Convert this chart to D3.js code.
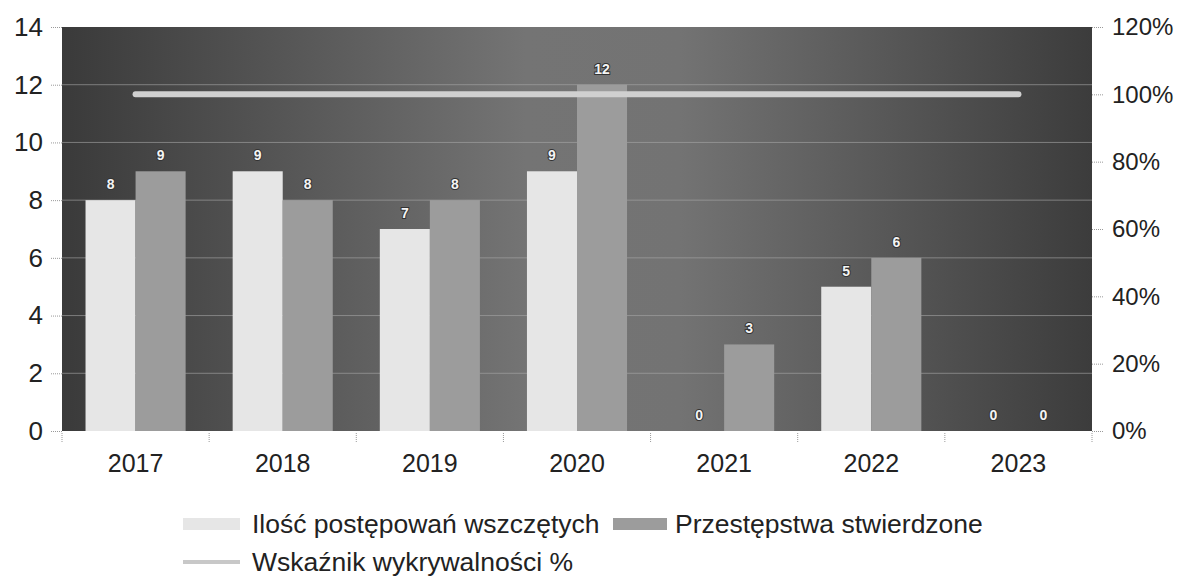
<!DOCTYPE html>
<html>
<head>
<meta charset="utf-8">
<script src="https://d3js.org/d3.v7.min.js"></script>
<style>
  body { margin: 0; background: #fff; }
  svg { display: block; font-family: "Liberation Sans", Arial, sans-serif; }
</style>
</head>
<body>
<div class="graph"></div>
<script>
const years = ['2017', '2018', '2019', '2020', '2021', '2022', '2023'];
const wszczete = [8, 9, 7, 9, 0, 5, 0];
const stwierdzone = [9, 8, 8, 12, 3, 6, 0];
const wykrywalnosc = [100, 100, 100, 100, 100, 100, 100];
const leftTicks = [0, 2, 4, 6, 8, 10, 12, 14];
const rightTicks = [0, 20, 40, 60, 80, 100, 120];
const seriesNames = ['Ilość postępowań wszczętych', 'Przestępstwa stwierdzone', 'Wskaźnik wykrywalności %'];

const width = 1182, height = 581;
const m = { left: 62, right: 90, top: 27, bottom: 150 };

const svg = d3.select('.graph').append('svg')
    .attr('width', width)
    .attr('height', height);

// background gradient of the plot area
const grad = svg.append('defs').append('linearGradient')
    .attr('id', 'bg').attr('x1', '0%').attr('x2', '100%').attr('y1', '0%').attr('y2', '0%');
grad.append('stop').attr('offset', '0%').attr('stop-color', '#3a3a3a');
grad.append('stop').attr('offset', '45%').attr('stop-color', '#747474');
grad.append('stop').attr('offset', '60%').attr('stop-color', '#737373');
grad.append('stop').attr('offset', '100%').attr('stop-color', '#3c3c3c');

const x = d3.scaleBand()
    .domain(years)
    .range([m.left, width - m.right]);

const xInner = d3.scaleBand()
    .domain([0, 1])
    .range([0, x.bandwidth()])
    .paddingOuter(0.47)
    .paddingInner(0);

const y = d3.scaleLinear()
    .domain([0, 14])
    .range([height - m.bottom, m.top]);

const y2 = d3.scaleLinear()
    .domain([0, 120])
    .range([height - m.bottom, m.top]);

svg.append('rect')
    .attr('x', m.left)
    .attr('y', m.top)
    .attr('width', width - m.left - m.right)
    .attr('height', height - m.top - m.bottom)
    .attr('fill', 'url(#bg)');

// grid lines
svg.append('g')
    .selectAll('line')
    .data(leftTicks.slice(1, -1))
    .join('line')
    .attr('x1', m.left)
    .attr('x2', width - m.right)
    .attr('y1', d => y(d))
    .attr('y2', d => y(d))
    .attr('stroke', '#a8a8a8')
    .attr('stroke-opacity', 0.6)
    .attr('stroke-width', 1);

// bars
const groups = svg.append('g')
    .selectAll('g')
    .data(years)
    .join('g')
    .attr('transform', d => `translate(${x(d)},0)`);

const pairs = (d, i) => [
    { k: 0, v: wszczete[i] },
    { k: 1, v: stwierdzone[i] }
];

groups.selectAll('rect')
    .data(pairs)
    .join('rect')
    .attr('x', d => xInner(d.k))
    .attr('y', d => y(d.v))
    .attr('width', xInner.bandwidth())
    .attr('height', d => y(0) - y(d.v))
    .attr('fill', d => d.k === 0 ? '#e6e6e6' : '#9c9c9c');

// line
const line = d3.line()
    .x((d, i) => x(years[i]) + x.bandwidth() / 2)
    .y(d => y2(d));

svg.append('path')
    .datum(wykrywalnosc)
    .attr('d', line)
    .attr('fill', 'none')
    .attr('stroke', '#d0d0d0')
    .attr('stroke-width', 6)
    .attr('stroke-linecap', 'round');

// value labels
groups.selectAll('text')
    .data(pairs)
    .join('text')
    .attr('x', d => xInner(d.k) + xInner.bandwidth() / 2)
    .attr('y', d => y(d.v) - 11)
    .attr('text-anchor', 'middle')
    .attr('font-size', 14)
    .attr('font-weight', 'bold')
    .attr('fill', '#f4f4f4')
    .attr('stroke', '#333')
    .attr('stroke-width', 2)
    .attr('paint-order', 'stroke')
    .text(d => d.v);

// axes
const yAxis = d3.axisLeft(y).tickValues(leftTicks).tickSize(12).tickPadding(7);
const yAxisR = d3.axisRight(y2).tickValues(rightTicks).tickSize(12).tickPadding(8).tickFormat(d => d + '%');
const xAxis = d3.axisBottom(x).tickSize(0).tickPadding(23);

function styleAxis(g, fs) {
    g.select('.domain').remove();
    g.selectAll('line').attr('stroke', '#999').attr('stroke-dasharray', '1,1');
    g.selectAll('text').attr('font-size', fs).attr('fill', '#222');
}

svg.append('g')
    .attr('transform', `translate(${m.left},0)`)
    .call(yAxis)
    .call(styleAxis, 26);

svg.append('g')
    .attr('transform', `translate(${width - m.right},0)`)
    .call(yAxisR)
    .call(styleAxis, 24);

svg.append('g')
    .attr('transform', `translate(0,${height - m.bottom})`)
    .call(xAxis)
    .call(styleAxis, 25);

// x boundary ticks
svg.append('g')
    .selectAll('line')
    .data(d3.range(years.length + 1))
    .join('line')
    .attr('x1', i => m.left + i * x.step())
    .attr('x2', i => m.left + i * x.step())
    .attr('y1', y(0) + 2)
    .attr('y2', y(0) + 12)
    .attr('stroke', '#999')
    .attr('stroke-dasharray', '1,1');

// legend
const legend = svg.append('g').attr('font-size', 26.5).attr('fill', '#222');

const leg1 = legend.append('g').attr('transform', 'translate(183,524)');
leg1.append('rect').attr('x', 0).attr('y', -6).attr('width', 57).attr('height', 12).attr('fill', '#e6e6e6');
leg1.append('text').attr('x', 69).attr('y', 9).text(seriesNames[0]);

const leg2 = legend.append('g').attr('transform', 'translate(613,524)');
leg2.append('rect').attr('x', 0).attr('y', -6).attr('width', 54).attr('height', 12).attr('fill', '#9c9c9c');
leg2.append('text').attr('x', 62).attr('y', 9).text(seriesNames[1]);

const leg3 = legend.append('g').attr('transform', 'translate(183,562)');
leg3.append('line').attr('x1', 0).attr('x2', 57).attr('y1', 0).attr('y2', 0)
    .attr('stroke', '#c8c8c8').attr('stroke-width', 4);
leg3.append('text').attr('x', 69).attr('y', 9).text(seriesNames[2]);
</script>
</body>
</html>
